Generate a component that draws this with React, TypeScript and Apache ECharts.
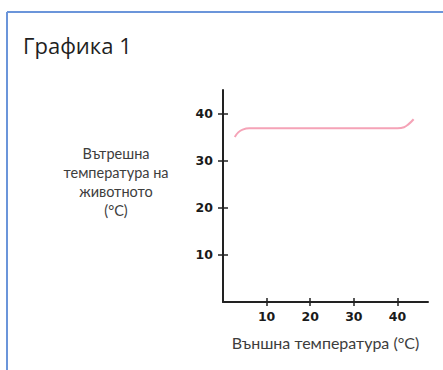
import React, { useEffect, useRef } from "react";
import * as echarts from "echarts";

const title = "Графика 1";
const yAxisTitle = "Вътрешна\nтемпература на\nживотното\n(°C)";
const xAxisTitle = "Външна температура (°C)";
const xTicks = [10, 20, 30, 40];
const yTicks = [10, 20, 30, 40];
const outsideTemp = [2.7, 3.5, 4.5, 6, 10, 20, 30, 40, 41.5, 42.5, 43.7];
const bodyTemp = [35.0, 36.0, 36.6, 36.9, 36.9, 36.9, 36.9, 36.9, 37.1, 37.7, 38.8];

export default function App() {
  const ref = useRef<HTMLDivElement>(null);
  useEffect(() => {
    document.body.style.margin = "0";
    const chart = echarts.init(ref.current!, null, { renderer: "svg" });
    const tickFont = {
      fontFamily: "DejaVu Sans",
      fontWeight: "bold" as const,
      fontSize: 12.5,
      color: "#1a1a1a",
    };
    const axisLine = { show: true, lineStyle: { color: "#222", width: 2 } };
    chart.setOption({
      animation: false,
      grid: { left: 223, top: 90, right: 15, bottom: 68 },
      title: {
        text: title,
        left: 18,
        top: 29,
        textStyle: { fontFamily: "Open Sans", fontWeight: "normal", fontSize: 22, color: "#1f1f1f" },
      },
      graphic: [
        { type: "line", shape: { x1: 7, y1: 12, x2: 443, y2: 12 }, style: { stroke: "#6b95da", lineWidth: 2 } },
        { type: "line", shape: { x1: 7, y1: 12, x2: 7, y2: 370 }, style: { stroke: "#6b95da", lineWidth: 2 } },
        {
          type: "text",
          x: 116,
          y: 144,
          style: {
            text: yAxisTitle,
            textAlign: "center",
            fontFamily: "Lato",
            fontSize: 14.5,
            lineHeight: 19,
            fill: "#3d3d3d",
          },
        },
      ],
      xAxis: [
        {
          type: "value",
          min: 0,
          max: 47,
          axisLine,
          splitLine: { show: false },
          axisTick: { show: true, customValues: xTicks, length: 4, lineStyle: { color: "#222", width: 1.5 } },
          axisLabel: { customValues: xTicks, margin: 8, ...tickFont },
          name: xAxisTitle,
          nameLocation: "middle",
          nameGap: 32,
          nameTextStyle: { fontFamily: "Lato", fontSize: 16, color: "#3d3d3d" },
        },
        {
          type: "value",
          min: 0,
          max: 47,
          position: "bottom",
          axisLine: { show: false },
          splitLine: { show: false },
          axisTick: { show: true, inside: true, customValues: xTicks, length: 4, lineStyle: { color: "#222", width: 1.5 } },
          axisLabel: { show: false },
        },
      ],
      yAxis: [
        {
          type: "value",
          min: 0,
          max: 45,
          axisLine,
          splitLine: { show: false },
          axisTick: { show: true, customValues: yTicks, length: 5, lineStyle: { color: "#222", width: 1.5 } },
          axisLabel: { customValues: yTicks, margin: 10, ...tickFont },
        },
        {
          type: "value",
          min: 0,
          max: 45,
          position: "left",
          axisLine: { show: false },
          splitLine: { show: false },
          axisTick: { show: true, inside: true, customValues: yTicks, length: 5, lineStyle: { color: "#222", width: 1.5 } },
          axisLabel: { show: false },
        },
      ],
      series: [
        {
          type: "line",
          xAxisIndex: 0,
          yAxisIndex: 0,
          data: outsideTemp.map((x, i) => [x, bodyTemp[i]]),
          smooth: 0.4,
          showSymbol: false,
          lineStyle: { color: "#f5a3b7", width: 2 },
        },
      ],
    });
    return () => chart.dispose();
  }, []);
  return <div ref={ref} style={{ width: 443, height: 370 }} />;
}
